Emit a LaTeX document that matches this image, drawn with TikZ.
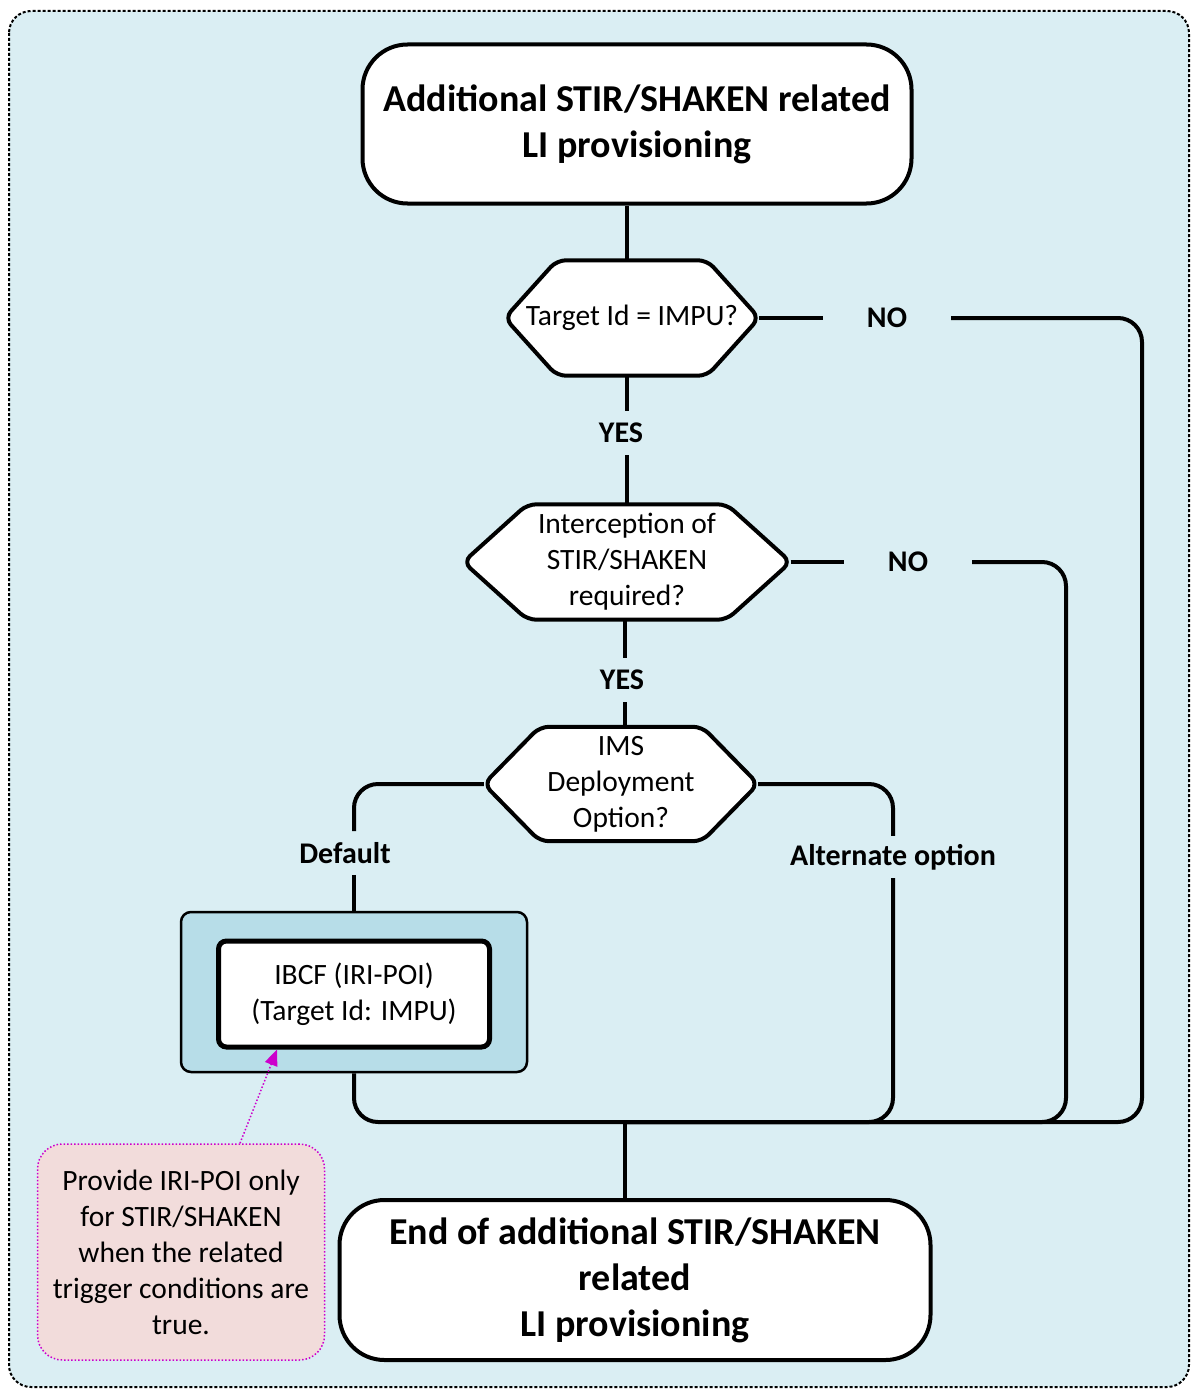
\documentclass[tikz,border=0pt]{standalone}
\usepackage{fontspec}
\setmainfont{Carlito}
\usetikzlibrary{arrows.meta,calc}
\definecolor{bgblue}{HTML}{DAEEF3}
\definecolor{ibcfblue}{HTML}{B7DDE8}
\definecolor{notepink}{HTML}{F2DCDB}
\definecolor{notemag}{HTML}{CC00CC}
\pgfdeclarelayer{bg}
\pgfsetlayers{bg,main}
\newcommand{\hexpath}[2]{\begin{pgfonlayer}{bg}\draw[hexline] ([xshift=#2]#1.north west) -- ([xshift=-#2]#1.north east) -- (#1.east) -- ([xshift=-#2]#1.south east) -- ([xshift=#2]#1.south west) -- (#1.west) -- cycle;\end{pgfonlayer}}
\tikzset{
  bigbox/.style={draw, line width=4pt, fill=white, rounded corners=45pt, align=center, inner sep=0pt,
    font=\fontsize{38}{46}\selectfont\bfseries},
  bodytext/.style={font=\fontsize{29.5}{36}\selectfont},
  hexnode/.style={inner sep=0pt, align=center, bodytext},
  hexline/.style={line width=4pt, fill=white, rounded corners=9pt, line join=round},
  conn/.style={line width=4pt, rounded corners=24pt},
  lbl/.style={font=\fontsize{30}{34}\selectfont\bfseries, inner sep=0pt},
}
\begin{document}
\begin{tikzpicture}[x=1pt,y=-1pt]
\useasboundingbox (0,0) rectangle (1192,1389);
\begin{pgfonlayer}{bg}
\draw[line width=2pt, dash pattern=on 3pt off 2pt, fill=bgblue, rounded corners=22pt] (9,11) rectangle (1189,1387);
\end{pgfonlayer}

% boxes
\node[bigbox, minimum width=549pt, minimum height=159pt] (top) at (637,124) {Additional STIR/SHAKEN related\\LI provisioning};
\node[hexnode, minimum width=254pt, minimum height=115pt] (h1) at (632,318) {Target Id = IMPU?};
\hexpath{h1}{52}
\node[hexnode, minimum width=327pt, minimum height=115pt] (h2) at (627,562) {Interception of\\STIR/SHAKEN\\required?};
\hexpath{h2}{64}
\node[hexnode, minimum width=274pt, minimum height=114pt] (h3) at (621,784) {IMS\\Deployment\\Option?};
\hexpath{h3}{56}

\node[draw, line width=2.5pt, fill=ibcfblue, rounded corners=10pt, minimum width=346pt, minimum height=160pt] (ibcf) at (354,992) {};
\node[draw, line width=5pt, fill=white, rounded corners=8pt, minimum width=271pt, minimum height=106pt, align=center, inner sep=0pt, bodytext] (ibcfin) at (354,994) {IBCF (IRI-POI)\\(Target Id: IMPU)};

\node[bigbox, minimum width=591pt, minimum height=160pt] (endb) at (635,1280) {End of additional STIR/SHAKEN\\related\\LI provisioning};

\node[draw=notemag, line width=1.5pt, dotted, fill=notepink, rounded corners=25pt, minimum width=287pt, minimum height=216pt, align=center, inner sep=0pt, bodytext] (note) at (181,1252) {Provide IRI-POI only\\for STIR/SHAKEN\\when the related\\trigger conditions are\\true.};

% labels
\node[lbl, inner ysep=12pt] (yes1) at (621,433) {YES};
\node[lbl, inner ysep=12pt] (yes2) at (622,680) {YES};
\node[lbl, inner xsep=44pt] (no1) at (887,318) {NO};
\node[lbl, inner xsep=44pt] (no2) at (908,562) {NO};
\node[lbl, inner ysep=11pt] (def) at (345,853) {Default};
\node[lbl, inner ysep=8pt] (alt) at (893,857) {Alternate option};

\coordinate (j) at (625,1122);
\coordinate (c1) at (1142,1122);
\coordinate (c2) at (1066,1122);

% connectors
\draw[conn] (top.south -| 627,0) -- (h1.north -| 627,0);
\draw[conn] (h1.south -| 627,0) -- (yes1.north -| 627,0);
\draw[conn] (yes1.south -| 627,0) -- (h2.north -| 627,0);
\draw[conn] (h2.south -| 625,0) -- (yes2.north -| 625,0);
\draw[conn] (yes2.south -| 625,0) -- (h3.north -| 625,0);
\draw[conn] (h1.east) -- (no1.west);
\draw[conn] (no1.east) -| (c1) -- (j);
\draw[conn] (h2.east) -- (no2.west);
\draw[conn] (no2.east) -| (c2) -- (j);
\draw[conn] (h3.west) -| (ibcf.north |- def.north);
\draw[conn] (ibcf.north |- def.south) -- (ibcf.north);
\draw[conn] (h3.east) -| (alt.north);
\draw[conn] (alt.south) |- (j);
\draw[conn] (ibcf.south) |- (j);
\draw[conn] (j) -- (j |- endb.north);

\draw[notemag, line width=1.5pt, dotted, -{Triangle[length=16pt,width=13pt]}] ([xshift=59pt]note.north) -- ([xshift=-77pt]ibcfin.south);
\end{tikzpicture}
\end{document}
